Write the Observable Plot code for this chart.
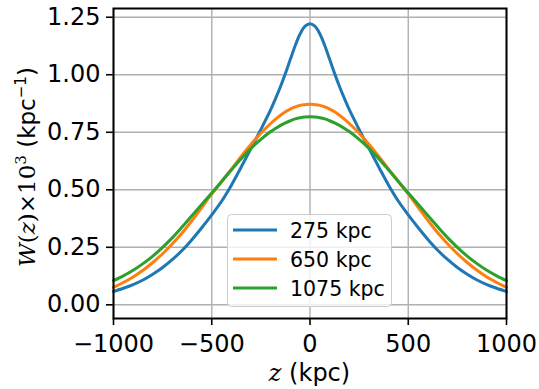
<!DOCTYPE html>
<html><head><meta charset="utf-8">
<script src="https://cdn.jsdelivr.net/npm/d3@7"></script>
<script src="https://cdn.jsdelivr.net/npm/@observablehq/plot@0.6"></script>
<style>
body{margin:0;background:#fff}
#chart{width:539px;height:389px}
g[aria-label="x-axis tick"] path, g[aria-label="y-axis tick"] path{stroke-width:1.6px}
</style>
</head><body><div id="chart"></div>
<script>
// z positions (kpc)
const zValues = [-1000,-950,-900,-850,-800,-750,-700,-650,-600,-550,-500,-450,-400,-350,-300,-250,
  -200,-175,-150,-125,-100,-75,-50,-25,0,25,50,75,100,125,150,175,200,
  250,300,350,400,450,500,550,600,650,700,750,800,850,900,950,1000];
// W(z) x 10^3 for each distance
const w275 = [0.058,0.072,0.088,0.108,0.133,0.162,0.197,0.237,0.284,0.336,0.391,0.450,0.520,0.599,0.680,0.762,
  0.848,0.897,0.949,1.006,1.067,1.127,1.178,1.211,1.222,1.211,1.178,1.127,1.067,1.006,0.949,0.897,0.848,
  0.762,0.680,0.599,0.520,0.450,0.391,0.336,0.284,0.237,0.197,0.162,0.133,0.108,0.088,0.072,0.058];
const w650 = [0.076,0.097,0.121,0.150,0.184,0.222,0.265,0.313,0.367,0.424,0.482,0.535,0.590,0.645,0.698,0.746,
  0.788,0.807,0.824,0.839,0.851,0.860,0.867,0.870,0.872,0.870,0.867,0.860,0.851,0.839,0.824,0.807,0.788,
  0.746,0.698,0.645,0.590,0.535,0.482,0.424,0.367,0.313,0.265,0.222,0.184,0.150,0.121,0.097,0.076];
const w1075 = [0.105,0.126,0.150,0.179,0.212,0.250,0.292,0.339,0.388,0.437,0.486,0.536,0.586,0.635,0.680,0.719,
  0.753,0.767,0.780,0.791,0.800,0.808,0.813,0.816,0.817,0.816,0.813,0.808,0.800,0.791,0.780,0.767,0.753,
  0.719,0.680,0.635,0.586,0.536,0.486,0.437,0.388,0.339,0.292,0.250,0.212,0.179,0.150,0.126,0.105];
const seriesLabels = ["275 kpc", "650 kpc", "1075 kpc"];
const seriesColors = ["#1f77b4", "#ff7f0e", "#2ca02c"];
const xTicks = [-1000, -500, 0, 500, 1000];
const yTicks = [0, 0.25, 0.5, 0.75, 1.0, 1.25];

const seriesValues = [w275, w650, w1075];
const rows = seriesLabels.flatMap((s, i) => zValues.map((z, j) => ({z, w: seriesValues[i][j], s})));
const fmtX = d => d < 0 ? "\u2212" + Math.abs(d) : String(d);

const chart = Plot.plot({
  width: 539, height: 389,
  marginLeft: 113, marginRight: 33, marginTop: 8, marginBottom: 71,
  style: {fontFamily: "DejaVu Sans, sans-serif", fontSize: "24px", background: "white", color: "black", overflow: "visible"},
  x: {domain: [-1000, 1000], ticks: xTicks, tickFormat: fmtX, tickSize: 7, tickPadding: 9, label: null},
  y: {domain: [-0.0595, 1.288], ticks: yTicks, tickFormat: d3.format(".2f"), tickSize: 7, tickPadding: 6, label: null},
  color: {domain: seriesLabels, range: seriesColors},
  marks: [
    Plot.ruleX(xTicks, {stroke: "#b0b0b0", strokeWidth: 1.4}),
    Plot.ruleY(yTicks, {stroke: "#b0b0b0", strokeWidth: 1.4}),
    Plot.line(rows, {x: "z", y: "w", z: "s", stroke: "s", strokeWidth: 3, curve: "catmull-rom"}),
    Plot.frame({stroke: "black", strokeWidth: 2})
  ]
});
document.getElementById("chart").appendChild(chart);

const svg = d3.select(chart);
const ns = "DejaVu Serif, serif";

// legend
const leg = svg.append("g");
leg.append("rect").attr("x", 227.5).attr("y", 214.5).attr("width", 164).attr("height", 92).attr("rx", 4)
  .attr("fill", "white").attr("fill-opacity", 0.8).attr("stroke", "#cccccc").attr("stroke-width", 1);
seriesLabels.forEach((lab, i) => {
  const yy = 230 + i * 29;
  leg.append("line").attr("x1", 233).attr("x2", 277).attr("y1", yy).attr("y2", yy)
    .attr("stroke", seriesColors[i]).attr("stroke-width", 3);
  leg.append("text").attr("x", 290).attr("y", yy + 7.5).attr("font-size", 20.5).attr("text-anchor", "start")
    .attr("font-family", "DejaVu Sans").attr("fill", "black").text(lab);
});

// x label
const xl = svg.append("text").attr("x", 309.5).attr("y", 381).attr("text-anchor", "middle")
  .attr("font-size", 24).attr("font-family", "DejaVu Sans").attr("fill", "black");
xl.append("tspan").attr("font-family", ns).attr("font-style", "italic").text("z");
xl.append("tspan").text(" (kpc)");

// y label
const yl = svg.append("text").attr("transform", "translate(35,167) rotate(-90)").attr("text-anchor", "middle")
  .attr("font-size", 23).attr("font-family", "DejaVu Sans").attr("fill", "black");
yl.append("tspan").attr("font-family", ns).attr("font-style", "italic").text("W");
yl.append("tspan").attr("font-family", ns).text("(");
yl.append("tspan").attr("font-family", ns).attr("font-style", "italic").text("z");
yl.append("tspan").attr("font-family", ns).text(")\u00d710");
yl.append("tspan").attr("font-family", ns).attr("font-size", 15).attr("dy", -9).text("3");
yl.append("tspan").attr("dy", 9).text(" (kpc");
yl.append("tspan").attr("font-size", 15).attr("dy", -9).text("\u22121");
yl.append("tspan").attr("dy", 9).text(")");
</script>
</body></html>
